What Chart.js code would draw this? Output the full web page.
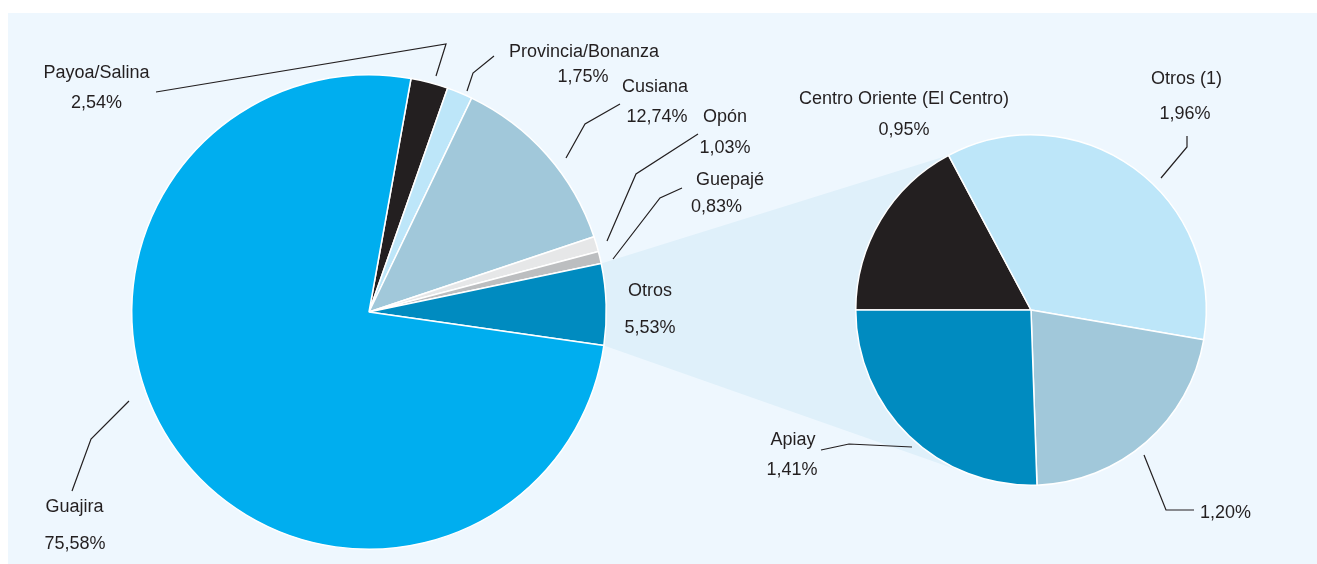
<!DOCTYPE html>
<html lang="es">
<head>
<meta charset="utf-8">
<title>Participación por campo</title>
<script src="https://cdn.jsdelivr.net/npm/chart.js@4.4.1/dist/chart.umd.min.js"></script>
<style>
    html, body {
        margin: 0;
        padding: 0;
        background: #ffffff;
    }
    #lienzo {
        position: relative;
        width: 1317px;
        height: 564px;
        overflow: hidden;
    }
    #panel {
        position: absolute;
        left: 8px;
        top: 13px;
        width: 1309px;
        height: 551px;
        background: #eef7fe;
    }
    canvas {
        position: absolute;
        left: 0;
        top: 0;
    }
</style>
</head>
<body>
<div id="lienzo">
    <div id="panel"></div>
    <canvas id="conector" width="1317" height="564"></canvas>
    <canvas id="tortaPrincipal" width="1317" height="564"></canvas>
    <canvas id="tortaOtros" width="1317" height="564"></canvas>
</div>

<script>
// Datos: torta principal (en el sentido de las agujas del reloj)
const camposPrincipal = ["Payoa/Salina", "Provincia/Bonanza", "Cusiana", "Opón", "Guepajé", "Otros", "Guajira"];
const valoresPrincipal = [2.54, 1.75, 12.74, 1.03, 0.83, 5.53, 75.58];
const coloresPrincipal = ["#231f20", "#bde6f9", "#a1c8da", "#e6e7e8", "#bcbec0", "#008bc0", "#00aeef"];

// Datos: desglose de "Otros"
const camposOtros = ["Centro Oriente (El Centro)", "Otros (1)", "", "Apiay"];
const valoresOtros = [0.95, 1.96, 1.20, 1.41];
const coloresOtros = ["#231f20", "#bde6f9", "#a1c8da", "#008bc0"];

const COLOR_TEXTO = "#231f20";
const FUENTE = '18px "Liberation Sans", Arial, sans-serif';

// Ubicación de etiquetas y líneas guía (px del lienzo)
const etiquetasPrincipal = [
    { nx: 96.5, ny: 78, vx: 96.5, vy: 108, guia: [[156, 92], [446, 44], [436, 76]] },
    { nx: 584, ny: 57, vx: 583, vy: 82, guia: [[494, 56], [473, 73], [467, 91]] },
    { nx: 655, ny: 92, vx: 657, vy: 122, guia: [[620, 104], [585, 124], [566, 158]] },
    { nx: 725, ny: 122, vx: 725, vy: 153, guia: [[698, 134], [636, 174], [607, 241]] },
    { nx: 730, ny: 185, vx: 716.5, vy: 212, guia: [[682, 188], [660, 198], [613, 259]] },
    { nx: 650, ny: 296, vx: 650, vy: 333, guia: null },
    { nx: 74.5, ny: 512, vx: 75, vy: 549, guia: [[72, 491], [91, 439], [129, 401]] },
];

const etiquetasOtros = [
    { nx: 904, ny: 104, vx: 904, vy: 135, guia: null },
    { nx: 1186.5, ny: 84, vx: 1185, vy: 119, guia: [[1187, 136], [1187, 147], [1161, 178]] },
    { nx: 0, ny: 0, vx: 1200, vy: 518, alinear: "left", guia: [[1144, 455], [1166, 510], [1194, 510]] },
    { nx: 793, ny: 445, vx: 792, vy: 475, guia: [[821, 450], [849, 444], [912, 447]] },
];

// Formato de porcentaje con coma decimal
function formatoPct(v) {
    return v.toFixed(2).replace(".", ",") + "%";
}

// Plugin para dibujar etiquetas con líneas guía
function pluginEtiquetas(nombres, valores, ubicaciones) {
    return {
        id: "etiquetas",
        afterDatasetsDraw(chart) {
            const ctx = chart.ctx;
            ctx.save();
            ctx.strokeStyle = COLOR_TEXTO;
            ctx.lineWidth = 1.2;
            ctx.fillStyle = COLOR_TEXTO;
            ctx.font = FUENTE;
            ctx.textBaseline = "alphabetic";

            ubicaciones.forEach((u, i) => {
                if (u.guia) {
                    ctx.beginPath();
                    ctx.moveTo(u.guia[0][0], u.guia[0][1]);
                    for (let k = 1; k < u.guia.length; k++) {
                        ctx.lineTo(u.guia[k][0], u.guia[k][1]);
                    }
                    ctx.stroke();
                }
                ctx.textAlign = u.alinear || "center";
                if (nombres[i]) {
                    ctx.fillText(nombres[i], u.nx, u.ny);
                }
                ctx.fillText(formatoPct(valores[i]), u.vx, u.vy);
            });
            ctx.restore();
        },
    };
}

function crearTorta(id, nombres, valores, colores, rotacion, relleno, ubicaciones) {
    return new Chart(document.getElementById(id), {
        type: "pie",
        data: {
            labels: nombres,
            datasets: [
                {
                    data: valores,
                    backgroundColor: colores,
                    borderColor: "#ffffff",
                    borderWidth: 1.5,
                },
            ],
        },
        options: {
            responsive: false,
            animation: false,
            rotation: rotacion,
            layout: { padding: relleno },
            plugins: {
                legend: { display: false },
                tooltip: { enabled: false },
            },
            events: [],
        },
        plugins: [pluginEtiquetas(nombres, valores, ubicaciones)],
    });
}

const tortaPrincipal = crearTorta(
    "tortaPrincipal", camposPrincipal, valoresPrincipal, coloresPrincipal, 10.2,
    { left: 131, right: 710, top: 74, bottom: 14 }, etiquetasPrincipal
);

const tortaOtros = crearTorta(
    "tortaOtros", camposOtros, valoresOtros, coloresOtros, 270,
    { left: 855, right: 110, top: 134, bottom: 78 }, etiquetasOtros
);

// Cuña que une el sector "Otros" con su desglose
function dibujarConector() {
    const ctx = document.getElementById("conector").getContext("2d");
    const otros = tortaPrincipal.getDatasetMeta(0).data[camposPrincipal.indexOf("Otros")];
    const centro = tortaOtros.getDatasetMeta(0).data[0];

    const a = otros.getProps(["x", "y", "startAngle", "endAngle", "outerRadius"]);
    const b = centro.getProps(["x", "y", "startAngle", "endAngle", "outerRadius"]);

    const p1 = [a.x + a.outerRadius * Math.cos(a.startAngle), a.y + a.outerRadius * Math.sin(a.startAngle)];
    const p2 = [a.x + a.outerRadius * Math.cos(a.endAngle), a.y + a.outerRadius * Math.sin(a.endAngle)];
    const q1 = [b.x + b.outerRadius * Math.cos(b.endAngle), b.y + b.outerRadius * Math.sin(b.endAngle)];

    // tangente inferior desde p2 al círculo del desglose
    const dx = b.x - p2[0];
    const dy = b.y - p2[1];
    const d = Math.hypot(dx, dy);
    const ang = Math.atan2(dy, dx) + Math.asin(b.outerRadius / d);
    const largo = Math.sqrt(d * d - b.outerRadius * b.outerRadius);
    const q2 = [p2[0] + largo * Math.cos(ang), p2[1] + largo * Math.sin(ang)];

    ctx.fillStyle = "#dff0fa";
    ctx.beginPath();
    ctx.moveTo(p1[0], p1[1]);
    ctx.lineTo(q1[0], q1[1]);
    ctx.lineTo(b.x, b.y);
    ctx.lineTo(q2[0], q2[1]);
    ctx.lineTo(p2[0], p2[1]);
    ctx.closePath();
    ctx.fill();
}

dibujarConector();
</script>
</body>
</html>
